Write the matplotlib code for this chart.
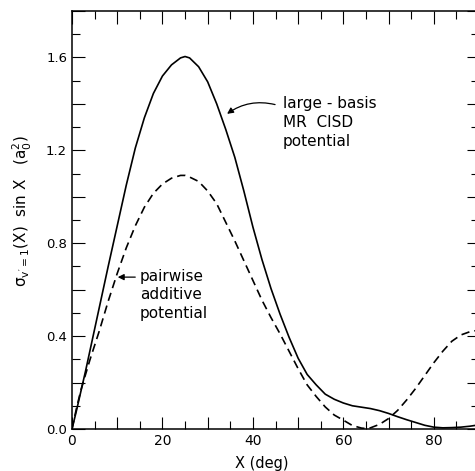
import numpy as np
import matplotlib
matplotlib.use("Agg")
import matplotlib.pyplot as plt
from matplotlib.ticker import MultipleLocator

plt.rcParams['font.family'] = ['DejaVu Sans']
plt.rcParams['mathtext.default'] = 'regular'

# angle in degrees
chi = [0, 1, 2, 3, 4, 6, 8, 10, 12, 14, 16, 18, 20, 22, 24, 25, 26, 28, 30, 32,
       34, 36, 38, 40, 42, 44, 46, 48, 50, 52, 54, 56, 58, 60, 62, 64, 65, 66,
       68, 70, 72, 74, 76, 78, 80, 82, 84, 86, 88, 90]

# large-basis MR CISD potential (solid)
mrcisd = [0.0, 0.08, 0.165, 0.25, 0.34, 0.52, 0.70, 0.875, 1.05, 1.21, 1.34,
          1.445, 1.52, 1.568, 1.598, 1.604, 1.598, 1.56, 1.495, 1.40, 1.29,
          1.17, 1.025, 0.87, 0.73, 0.605, 0.495, 0.395, 0.305, 0.235, 0.19,
          0.15, 0.128, 0.112, 0.10, 0.094, 0.091, 0.088, 0.079, 0.067, 0.053,
          0.04, 0.028, 0.016, 0.008, 0.005, 0.006, 0.008, 0.012, 0.018]

# pairwise additive potential (dashed)
pairwise = [0.0, 0.09, 0.17, 0.235, 0.30, 0.42, 0.55, 0.67, 0.78, 0.875, 0.955,
            1.015, 1.055, 1.08, 1.092, 1.092, 1.085, 1.066, 1.025, 0.97, 0.89,
            0.81, 0.725, 0.64, 0.555, 0.48, 0.41, 0.335, 0.26, 0.19, 0.14,
            0.095, 0.06, 0.038, 0.015, 0.004, 0.002, 0.005, 0.02, 0.045, 0.08,
            0.125, 0.175, 0.23, 0.285, 0.335, 0.378, 0.405, 0.419, 0.426]

xticks = [0, 10, 20, 30, 40, 50, 60, 70, 80, 90]
xlabels = ['0', '', '20', '', '40', '', '60', '', '80', '']
yticks = [0.0, 0.2, 0.4, 0.6, 0.8, 1.0, 1.2, 1.4, 1.6, 1.8]
ylabels = ['0.0', '', '0.4', '', '0.8', '', '1.2', '', '1.6', '']

W, H = 475, 471
fig = plt.figure(figsize=(W / 100, H / 100), dpi=100)
ax = fig.add_axes([72 / W, 1 - 429 / H, 407 / W, 418 / H])

ax.plot(chi, mrcisd, color='black', lw=1.2)
ax.plot(chi, pairwise, color='black', lw=1.2, dashes=(5, 3))

ax.set_xlim(0, 90)
ax.set_ylim(0, 1.8)
ax.set_xticks(xticks)
ax.set_xticklabels(xlabels, fontsize=10)
ax.set_yticks(yticks)
ax.set_yticklabels(ylabels, fontsize=9.5)
ax.xaxis.set_minor_locator(MultipleLocator(5))
ax.yaxis.set_minor_locator(MultipleLocator(0.1))
ax.tick_params(which='both', direction='in', top=True, right=True, width=0.8)
ax.tick_params(which='major', length=9)
ax.tick_params(which='minor', length=5.5)
for s in ax.spines.values():
    s.set_linewidth(1.1)

ax.set_xlabel('X (deg)', fontsize=10.5)
ax.xaxis.set_label_coords((262 - 72) / 407, -(456 - 429) / 418)
ax.set_ylabel(r"$\sigma_{v'=1}$(X)  sin X   (a$_0^2$)", fontsize=11)
ax.yaxis.set_label_coords(-(72 - 34) / 407, 0.52)

# annotations
ax.annotate('', xy=(33.8, 1.35), xytext=(45.5, 1.394),
            arrowprops=dict(arrowstyle='-|>', color='black', lw=0.9,
                            mutation_scale=9,
                            connectionstyle='arc3,rad=0.25'))
ax.text(46.6, 1.432, 'large - basis\nMR  CISD\npotential', fontsize=11,
        ha='left', va='top', linespacing=1.3)

ax.annotate('', xy=(9.5, 0.654), xytext=(14.6, 0.654),
            arrowprops=dict(arrowstyle='-|>', color='black', lw=0.9,
                            mutation_scale=9))
ax.text(15.0, 0.69, 'pairwise\nadditive\npotential', fontsize=11,
        ha='left', va='top', linespacing=1.3)

fig.savefig('out.png', dpi=100)
